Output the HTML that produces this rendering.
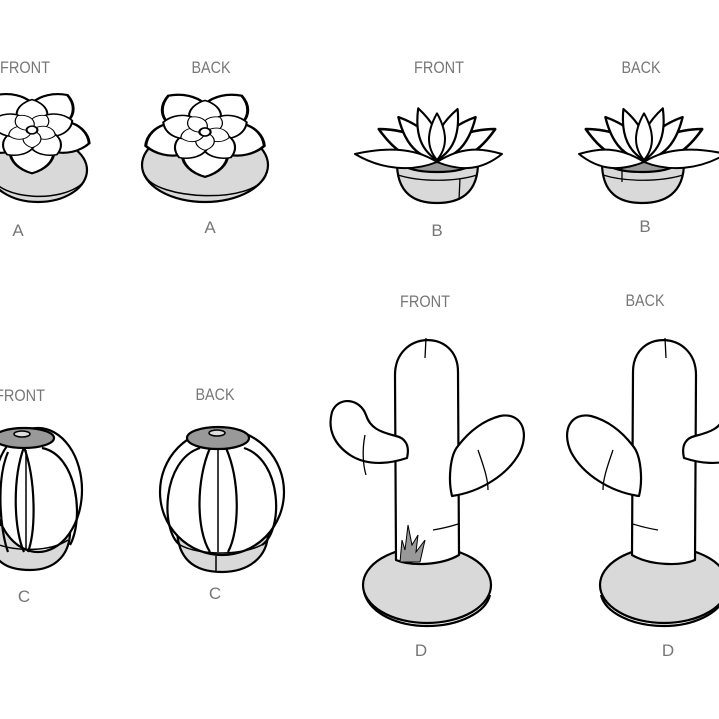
<!DOCTYPE html>
<html><head><meta charset="utf-8"><style>
html,body{margin:0;padding:0;background:#fff;width:719px;height:719px;overflow:hidden}
svg{display:block}
text{font-family:"Liberation Sans Narrow","Liberation Sans",sans-serif;fill:#777;font-size:17px;text-anchor:middle}
</style></head><body>
<svg width="719" height="719" viewBox="0 0 719 719" xmlns="http://www.w3.org/2000/svg">
<defs>
<path id="pet" d="M0,0 C-17,-8 -15,-27 0,-33 C15,-27 17,-8 0,0Z"/>
<path id="leaf" d="M0,0 C-13,-18 -8,-38 0,-55 C8,-38 13,-18 0,0Z"/>
<g id="ros" stroke="#000" fill="#fff" stroke-width="1.6" stroke-linejoin="round">
 <g transform="scale(1,0.72)">
  <use href="#pet" transform="rotate(36) scale(1.35)"/>
  <use href="#pet" transform="rotate(108) scale(1.35)"/>
  <use href="#pet" transform="rotate(180) scale(1.35)"/>
  <use href="#pet" transform="rotate(252) scale(1.35)"/>
  <use href="#pet" transform="rotate(324) scale(1.35)"/>
  <use href="#pet" transform="rotate(0) scale(0.95)"/>
  <use href="#pet" transform="rotate(72) scale(0.95)"/>
  <use href="#pet" transform="rotate(144) scale(0.95)"/>
  <use href="#pet" transform="rotate(216) scale(0.95)"/>
  <use href="#pet" transform="rotate(288) scale(0.95)"/>
  <use href="#pet" transform="rotate(36) scale(0.55)"/>
  <use href="#pet" transform="rotate(108) scale(0.55)"/>
  <use href="#pet" transform="rotate(180) scale(0.55)"/>
  <use href="#pet" transform="rotate(252) scale(0.55)"/>
  <use href="#pet" transform="rotate(324) scale(0.55)"/>
  <circle r="4"/>
 </g>
</g>
<g id="spiky" stroke="#000" fill="#fff" stroke-width="2" stroke-linejoin="round">
 <use href="#leaf" transform="rotate(-62) scale(1.3,1.2)"/>
 <use href="#leaf" transform="rotate(62) scale(1.3,1.2)"/>
 <use href="#leaf" transform="rotate(-42) scale(1.2,1.05)"/>
 <use href="#leaf" transform="rotate(42) scale(1.2,1.05)"/>
 <use href="#leaf" transform="rotate(-20) scale(1.1,1)"/>
 <use href="#leaf" transform="rotate(22) scale(1.1,1)"/>
 <use href="#leaf" transform="rotate(0) scale(1,0.85)"/>
 <path d="M0,2 C-25,-14 -55,-12 -82,-6 C-55,10 -25,12 0,2Z"/>
 <path d="M0,2 C25,-14 45,-12 65,-6 C45,10 25,12 0,2Z"/>
</g>
<g id="sag" stroke="#000" stroke-width="2.2" stroke-linejoin="round" fill="#fff">
 <ellipse cx="427" cy="585" rx="64" ry="38" fill="#d9d9d9"/>
 <path d="M364,592 C370,615 400,626 427,626 C460,626 486,612 490,595" fill="none"/>
 <path d="M396,560 L395,375 C395,330 458,328 458,372 L459,555 C440,566 410,566 396,560Z"/>
 <path d="M396,436 C380,432 370,428 366,415 C360,398 338,396 332,412 C327,430 335,445 350,455 C370,468 395,462 407,458 C410,445 405,438 396,436Z"/>
 <path d="M458,446 C470,430 485,420 500,416 C520,412 530,430 520,452 C508,475 480,492 452,496 C448,480 450,455 458,446Z"/>
 <path d="M365,435 C362,450 363,465 366,475" fill="none" stroke-width="1.3"/>
 <path d="M478,450 C485,470 488,480 488,490" fill="none" stroke-width="1.3"/>
 <path d="M426,338 L425,358" fill="none" stroke-width="1.3"/>
 <path d="M433,530 C445,528 452,526 458,524" fill="none" stroke-width="1.2"/>
</g>
</defs>

<text x="25" y="73" textLength="50" lengthAdjust="spacingAndGlyphs">FRONT</text>
<text x="211" y="73" textLength="39" lengthAdjust="spacingAndGlyphs">BACK</text>
<text x="439" y="73" textLength="50" lengthAdjust="spacingAndGlyphs">FRONT</text>
<text x="641" y="73" textLength="39" lengthAdjust="spacingAndGlyphs">BACK</text>
<text x="18" y="236">A</text>
<text x="210" y="233">A</text>
<text x="437" y="236">B</text>
<text x="645" y="232">B</text>
<text x="20" y="401" textLength="50" lengthAdjust="spacingAndGlyphs">FRONT</text>
<text x="215" y="400" textLength="39" lengthAdjust="spacingAndGlyphs">BACK</text>
<text x="24" y="602">C</text>
<text x="215" y="599">C</text>
<text x="425" y="307" textLength="50" lengthAdjust="spacingAndGlyphs">FRONT</text>
<text x="645" y="306" textLength="39" lengthAdjust="spacingAndGlyphs">BACK</text>
<text x="421" y="656">D</text>
<text x="668" y="656">D</text>

<!-- A front -->
<g stroke="#000" stroke-width="2.2" fill="#d9d9d9">
 <ellipse cx="38" cy="170" rx="49" ry="32"/>
 <path d="M-8,178 C0,198 60,205 84,182" fill="none" stroke-width="1.5"/>
</g>
<use href="#ros" transform="translate(32,130) scale(1.35,1.35)"/>
<!-- A back -->
<g stroke="#000" stroke-width="2.2" fill="#d9d9d9">
 <ellipse cx="205" cy="165" rx="63" ry="37"/>
 <path d="M145,175 C155,200 255,205 266,175" fill="none" stroke-width="1.5"/>
</g>
<use href="#ros" transform="translate(205,132) scale(1.4,1.4)"/>

<!-- B front -->
<g stroke="#000" stroke-width="2.2">
 <path d="M397,160 L478,160 C479,195 458,203 437,203 C416,203 396,195 397,160Z" fill="#d9d9d9"/>
 <ellipse cx="437" cy="164" rx="33" ry="8" fill="#999"/>
 <path d="M398,175 C420,182 455,182 477,175 M460,178 L459,200" fill="none" stroke-width="1.3"/>
</g>
<use href="#spiky" transform="translate(437,160)"/>
<!-- B back -->
<g stroke="#000" stroke-width="2.2">
 <path d="M602,160 L684,160 C685,195 663,203 642,203 C621,203 601,195 602,160Z" fill="#d9d9d9"/>
 <ellipse cx="642" cy="164" rx="33" ry="8" fill="#999"/>
 <path d="M603,175 C625,182 660,182 683,175 M622,168 L622,182" fill="none" stroke-width="1.3"/>
</g>
<use href="#spiky" transform="translate(644,160) scale(-1,1)"/>

<!-- C front -->
<g stroke="#000" stroke-width="2.2" fill="#fff">
 <path d="M-8,525 L70,525 C72,555 55,570 30,570 C5,570 -8,560 -8,540Z" fill="#d9d9d9"/>
 <ellipse cx="38" cy="490" rx="44" ry="62"/>
 <path d="M24,447 C12,480 14,530 24,552 M24,447 C36,480 36,530 28,552 M42,448 C78,455 84,520 70,545" fill="none"/>
 <path d="M8,452 C-4,480 0,530 8,552" fill="none"/>
 <path d="M26,450 L26,550" stroke-width="1.5"/>
 <path d="M-6,543 C15,552 50,552 68,540" fill="none" stroke-width="1.5"/>
 <ellipse cx="24" cy="438" rx="30" ry="10" fill="#999"/>
 <ellipse cx="22" cy="434" rx="8" ry="3" fill="#ddd" stroke-width="1.5"/>
</g>
<!-- C back -->
<g stroke="#000" stroke-width="2.2" fill="#fff">
 <path d="M177,530 L268,528 C270,560 245,572 222,572 C195,572 178,560 177,530Z" fill="#d9d9d9"/>
 <ellipse cx="222" cy="492" rx="62" ry="63"/>
 <path d="M210,448 C196,480 196,530 210,552 M226,448 C240,480 240,530 228,552 M200,448 C162,460 160,530 180,545 M244,448 C282,460 284,530 262,545" fill="none"/>
 <path d="M218,450 L218,552 M216,556 L216,572" stroke-width="1.5"/>
 <path d="M180,545 C200,556 245,556 265,543" fill="none" stroke-width="1.5"/>
 <ellipse cx="218" cy="438" rx="31" ry="11" fill="#999"/>
 <ellipse cx="217" cy="433" rx="8" ry="3" fill="#ddd" stroke-width="1.5"/>
</g>

<!-- D front -->
<use href="#sag"/>
<path d="M400,562 L402,540 L405,550 L408,525 L412,545 L418,535 L416,552 L425,540 L420,562Z" fill="#999" stroke="#000" stroke-width="1"/>
<!-- D back -->
<use href="#sag" transform="translate(1091,0) scale(-1,1)"/>
</svg>
</body></html>
